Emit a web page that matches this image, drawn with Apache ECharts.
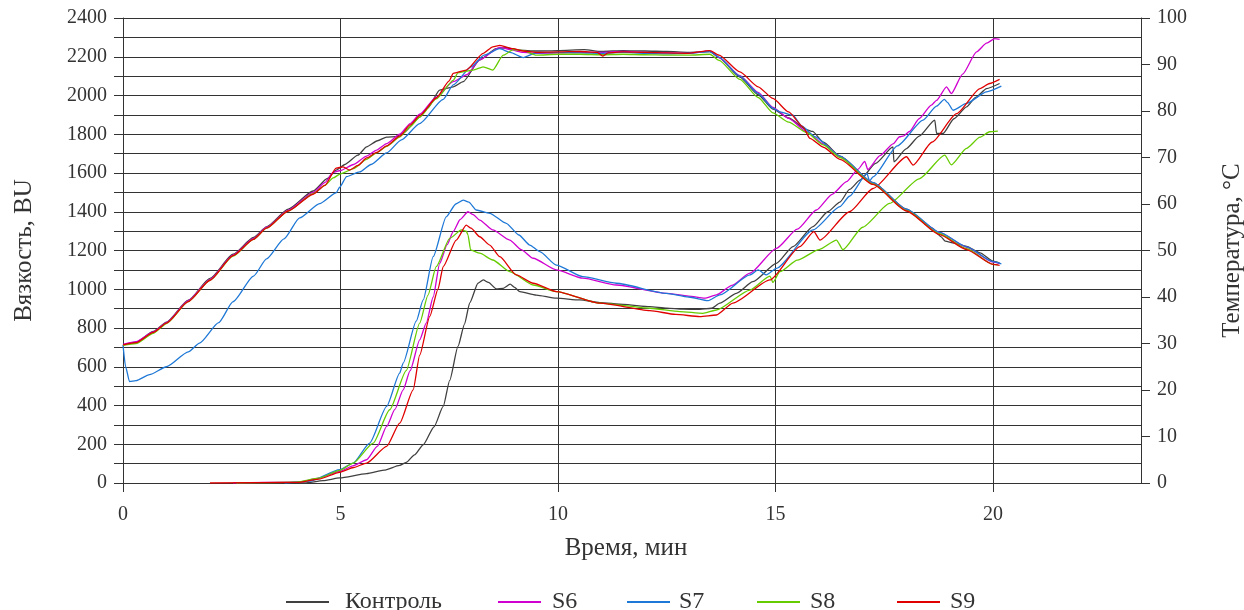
<!DOCTYPE html>
<html>
<head>
<meta charset="utf-8">
<script src="https://cdn.jsdelivr.net/npm/echarts@6/dist/echarts.min.js"></script>
<style>
html,body{margin:0;padding:0;background:#fff;overflow:hidden;}
#chart{width:1244px;height:610px;}
</style>
</head>
<body>
<div id="chart"></div>
<script>
// ---------- DATA ----------
const seriesNames = ['Контроль', 'S6', 'S7', 'S8', 'S9'];
const xTicks = [0, 5, 10, 15, 20];

// Viscosity, BU  [time min, BU]
const viscControl = [[3.2,0],[4.18,0],[4.6,12],[4.98,26],[5.6,48],[6.0,66],[6.36,91],[6.51,106],[6.7,145],[6.9,197],[7.15,290],[7.36,395],[7.51,530],[7.7,705],[7.85,820],[7.97,930],[8.16,1031],[8.28,1048],[8.4,1035],[8.58,1002],[8.74,1005],[8.9,1026],[9.0,1010],[9.12,988],[9.5,970],[9.96,954],[10.5,945],[10.96,931],[11.5,922],[12.11,910],[12.5,903],[12.87,897],[13.2,896],[13.53,902],[13.72,928],[14.1,979],[14.48,1039],[15.02,1134],[15.4,1220],[15.86,1323],[16.2,1400],[16.48,1450],[16.7,1515],[16.94,1563],[17.3,1650],[17.7,1735],[17.72,1658],[18.0,1725],[18.3,1790],[18.66,1873],[18.7,1804],[18.85,1804],[19.1,1880],[19.39,1941],[19.6,1990],[19.85,2036],[20.15,2062]];
const viscS6 = [[2.53,0],[4.06,5],[4.5,25],[4.98,60],[5.3,90],[5.6,120],[5.85,190],[6.06,292],[6.25,380],[6.44,481],[6.6,580],[6.82,739],[6.97,825],[7.13,960],[7.28,1134],[7.45,1230],[7.59,1297],[7.75,1360],[7.93,1400],[8.05,1385],[8.2,1357],[8.5,1306],[8.89,1254],[9.15,1205],[9.43,1160],[9.96,1100],[10.57,1057],[11.34,1022],[12.49,979],[13.0,965],[13.37,954],[13.64,971],[14.0,1020],[14.41,1083],[15.02,1211],[15.5,1310],[15.94,1409],[16.3,1490],[16.63,1555],[16.9,1620],[17.05,1660],[17.12,1618],[17.4,1690],[17.7,1750],[17.85,1787],[17.95,1792],[18.08,1815],[18.3,1880],[18.58,1950],[18.7,1975],[18.93,2045],[19.04,2010],[19.3,2110],[19.62,2225],[19.85,2270],[20.04,2294],[20.15,2290]];
const viscS7 = [[3.72,0],[4.3,10],[4.98,69],[5.29,103],[5.67,206],[6.06,395],[6.36,567],[6.44,619],[6.74,835],[6.9,945],[7.13,1168],[7.43,1374],[7.65,1440],[7.82,1460],[7.95,1450],[8.12,1409],[8.43,1392],[8.81,1340],[9.1,1280],[9.35,1228],[9.58,1194],[9.96,1125],[10.57,1065],[11.34,1031],[12.49,979],[13.0,960],[13.45,941],[13.72,971],[14.41,1074],[14.6,1100],[14.79,1074],[15.02,1108],[15.86,1306],[16.48,1426],[16.7,1480],[17.1,1598],[17.16,1560],[17.24,1580],[17.8,1740],[18.39,1873],[18.7,1945],[18.88,1980],[18.95,1965],[19.08,1924],[19.39,1959],[19.85,2019],[20.19,2048]];
const viscS8 = [[2.6,0],[4.0,5],[4.5,25],[4.98,65],[5.29,103],[5.75,206],[6.13,378],[6.51,580],[6.82,825],[7.01,970],[7.2,1117],[7.51,1263],[7.78,1306],[7.89,1300],[7.93,1280],[7.99,1203],[8.2,1186],[8.5,1151],[8.89,1091],[9.43,1022],[9.96,988],[10.96,928],[12.11,902],[12.8,885],[13.33,876],[13.64,893],[14.41,996],[14.87,1068],[14.94,1035],[15.1,1091],[15.5,1150],[16.0,1205],[16.4,1254],[16.55,1204],[17.0,1320],[17.62,1443],[18.3,1570],[18.89,1692],[19.04,1642],[19.39,1727],[19.7,1785],[19.92,1813],[20.11,1816]];
const viscS9 = [[2.0,0],[4.0,3],[4.5,20],[4.98,55],[5.3,80],[5.6,103],[6.06,189],[6.36,309],[6.67,481],[6.82,660],[7.05,859],[7.24,1000],[7.36,1117],[7.66,1254],[7.89,1331],[8.0,1315],[8.2,1271],[8.43,1228],[8.66,1168],[9.04,1074],[9.43,1031],[9.96,988],[10.96,928],[12.11,890],[12.7,870],[13.26,859],[13.64,867],[14.02,928],[14.87,1048],[15.56,1220],[15.88,1297],[16.02,1254],[16.7,1400],[17.24,1520],[18.01,1684],[18.16,1641],[18.6,1760],[19.16,1906],[19.7,2036],[19.92,2062],[20.15,2083]];

// Temperature, °C  [time min, °C]
const tempControl = [[0,29.7],[0.3,30.3],[0.7,32.6],[1.0,34.6],[1.5,39.3],[2.0,44.0],[2.53,49.2],[3.0,52.8],[3.3,55.1],[3.8,58.9],[4.37,62.8],[4.7,65.5],[4.9,67.3],[5.1,68.5],[5.4,70.5],[5.6,72.3],[5.85,73.6],[6.06,74.4],[6.28,74.5],[6.45,75.3],[6.82,78.7],[7.0,80.6],[7.28,84.5],[7.59,85.2],[7.82,86.3],[8.2,91.0],[8.58,93.4],[8.8,93.6],[9.1,93.1],[9.5,92.9],[10.0,93.0],[10.6,93.2],[11.0,92.8],[11.5,93.0],[12.0,92.9],[12.5,92.8],[13.0,92.6],[13.49,92.8],[13.7,91.5],[14.18,87.3],[14.6,83.5],[14.94,80.4],[15.3,78.5],[15.71,76.0],[15.85,75.6],[16.1,73.3],[16.48,70.3],[17.24,64.6],[18.01,58.9],[18.6,54.8],[18.8,53.0],[18.9,52.0],[19.1,51.6],[19.39,50.9],[19.7,49.5],[20.0,47.7],[20.15,47.3]];
const tempS6 = [[0,29.8],[0.3,30.4],[0.7,32.5],[1.0,34.5],[1.5,39.2],[2.0,43.8],[2.53,49.0],[3.0,52.6],[3.3,55.0],[3.8,58.7],[4.37,62.5],[4.64,64.6],[4.83,66.8],[5.0,67.2],[5.3,68.5],[5.6,70.3],[5.83,71.6],[6.06,73.0],[6.36,75.0],[6.6,77.3],[6.82,79.3],[7.2,83.0],[7.59,86.3],[7.9,87.8],[8.2,91.0],[8.66,93.7],[8.9,93.2],[9.2,92.6],[9.5,92.4],[10.0,92.5],[10.5,92.6],[11.0,92.6],[11.5,92.8],[12.0,92.6],[12.5,92.5],[13.0,92.4],[13.49,92.9],[13.7,91.5],[14.18,87.6],[14.6,84.0],[14.94,80.8],[15.3,78.4],[15.71,75.6],[16.1,72.9],[16.48,70.2],[17.24,64.5],[18.01,58.8],[18.77,53.9],[19.39,50.7],[20.0,47.5],[20.15,47.2]];
const tempS7 = [[0,29.7],[0.06,25.0],[0.15,21.8],[0.3,22.0],[0.61,23.3],[1.0,25.0],[1.5,28.2],[1.76,30.1],[2.2,34.5],[2.53,39.0],[3.0,44.5],[3.3,48.2],[3.7,52.5],[4.06,57.0],[4.52,60.1],[4.9,62.4],[4.98,63.6],[5.14,65.9],[5.44,66.9],[5.7,68.5],[6.06,71.0],[6.4,73.8],[6.82,77.3],[7.36,82.5],[7.59,85.6],[8.0,89.5],[8.3,92.0],[8.66,93.4],[8.9,92.6],[9.2,91.5],[9.5,92.5],[10.0,92.6],[10.5,92.5],[11.0,92.4],[11.5,92.6],[12.0,92.4],[12.5,92.3],[13.0,92.4],[13.49,92.8],[13.7,91.6],[14.18,87.5],[14.6,83.8],[14.94,80.6],[15.1,79.8],[15.4,79.1],[15.6,76.8],[15.9,74.5],[16.48,70.3],[17.24,64.6],[18.01,58.9],[18.77,53.9],[19.39,50.8],[20.0,47.6],[20.19,47.1]];
const tempS8 = [[0,29.6],[0.3,30.0],[0.7,32.2],[1.0,34.3],[1.5,39.0],[2.0,43.6],[2.53,48.8],[3.0,52.4],[3.3,54.8],[3.8,58.5],[4.37,62.2],[4.64,64.0],[4.83,65.6],[5.0,66.5],[5.3,67.6],[5.6,69.6],[5.83,71.0],[6.06,72.4],[6.36,74.4],[6.6,76.6],[6.82,78.7],[7.2,82.6],[7.59,86.6],[7.7,88.2],[8.05,88.8],[8.28,89.5],[8.5,88.8],[8.74,92.0],[8.97,93.2],[9.2,93.0],[9.5,92.0],[10.0,92.2],[10.5,92.2],[11.0,92.1],[11.5,92.2],[12.0,92.1],[12.5,92.0],[13.0,92.0],[13.49,92.2],[13.7,90.9],[14.18,86.8],[14.6,82.9],[14.94,79.6],[15.3,77.6],[15.71,75.4],[16.1,72.7],[16.48,70.0],[17.24,64.3],[18.01,58.6],[18.77,53.6],[19.39,50.4],[20.0,47.0],[20.11,46.9]];
const tempS9 = [[0,29.7],[0.3,30.2],[0.7,32.4],[1.0,34.4],[1.5,39.0],[2.0,43.6],[2.53,48.9],[3.0,52.4],[3.3,54.8],[3.8,58.5],[4.37,62.1],[4.64,64.0],[4.9,67.7],[5.06,68.0],[5.21,67.3],[5.4,68.3],[5.6,69.9],[5.83,71.1],[6.06,72.5],[6.36,74.6],[6.6,77.0],[6.82,79.0],[7.2,82.8],[7.5,86.5],[7.59,88.1],[7.89,88.8],[8.28,92.4],[8.5,93.8],[8.66,94.1],[8.97,93.4],[9.2,92.9],[9.5,92.6],[10.0,92.7],[10.5,92.8],[10.9,92.6],[11.03,91.8],[11.15,92.5],[11.5,92.7],[12.0,92.6],[12.5,92.5],[13.0,92.4],[13.49,93.0],[13.7,92.0],[14.18,88.4],[14.6,85.2],[14.94,82.7],[15.3,79.8],[15.63,76.6],[15.79,74.1],[16.1,72.2],[16.48,69.6],[17.24,64.2],[18.01,58.5],[18.77,53.4],[19.39,50.2],[20.0,47.0],[20.15,46.8]];

// ---------- STYLE ----------
const colors = ['#404040', '#d000d0', '#1e78d6', '#66cc00', '#e00000'];
const FONT = 'Liberation Serif';
const TXT = '#333';
const GRIDC = '#333';
const legendLefts = [281, 493, 622, 752, 892];
const legendPads = [11, 6, 4, 5, 5];

const viscData = [viscControl, viscS6, viscS7, viscS8, viscS9];
const tempData = [tempControl, tempS6, tempS7, tempS8, tempS9];

function mkSeries(data, i, axis) {
  return {
    name: seriesNames[i], type: 'line', yAxisIndex: axis, data: data,
    showSymbol: false, symbol: 'none', smooth: 0.2, smoothMonotone: 'x',
    lineStyle: { color: colors[i], width: 1.3 }, itemStyle: { color: colors[i] },
    emphasis: { disabled: true }, silent: true
  };
}

const series = [];
viscData.forEach((d, i) => series.push(mkSeries(d, i, 0)));
tempData.forEach((d, i) => series.push(mkSeries(d, i, 1)));

const el = document.getElementById('chart');
const chart = echarts.init(el, null, { renderer: 'canvas', width: 1244, height: 610 });
chart.setOption({
  animation: false,
  backgroundColor: '#fff',
  grid: { left: 123, top: 18, width: 1018, height: 465, containLabel: false, outerBoundsMode: 'none' },
  legend: seriesNames.map((n, i) => ({
    data: [n], left: legendLefts[i], top: 585, icon: 'rect', itemWidth: 43, itemHeight: 2,
    selectedMode: false,
    textStyle: { fontFamily: FONT, fontSize: 24, color: TXT, padding: [0, 0, 0, legendPads[i]] }
  })),
  xAxis: {
    type: 'value', min: 0, max: 23.4, interval: 5,
    name: 'Время, мин', nameLocation: 'middle', nameGap: 53,
    nameTextStyle: { fontFamily: FONT, fontSize: 25, color: TXT, padding: [0, 12, 0, 0] },
    axisLine: { show: true, lineStyle: { color: GRIDC, width: 1 } },
    axisTick: { show: true, length: 9, inside: false, customValues: xTicks, lineStyle: { color: GRIDC } },
    axisLabel: { customValues: xTicks, fontFamily: FONT, fontSize: 20, color: TXT, margin: 22 },
    splitLine: { show: true, lineStyle: { color: GRIDC, width: 1 } }
  },
  yAxis: [
    {
      type: 'value', min: 0, max: 2400, interval: 100, position: 'left',
      name: 'Вязкость, BU', nameLocation: 'middle', nameGap: 86, nameRotate: 90,
      nameTextStyle: { fontFamily: FONT, fontSize: 25, color: TXT },
      axisLine: { show: true, lineStyle: { color: GRIDC, width: 1 } },
      axisTick: { show: true, length: 9, inside: false, lineStyle: { color: GRIDC } },
      axisLabel: { fontFamily: FONT, fontSize: 20, color: TXT, margin: 16,
        formatter: v => (v % 200 === 0 ? String(v) : '') },
      splitLine: { show: true, lineStyle: { color: GRIDC, width: 1 } }
    },
    {
      type: 'value', min: 0, max: 100, interval: 10, position: 'right',
      name: 'Температура, °C', nameLocation: 'middle', nameGap: 79, nameRotate: 90,
      nameTextStyle: { fontFamily: FONT, fontSize: 25, color: TXT },
      axisLine: { show: true, lineStyle: { color: GRIDC, width: 1 } },
      axisTick: { show: true, length: 9, inside: false, lineStyle: { color: GRIDC } },
      axisLabel: { fontFamily: FONT, fontSize: 20, color: TXT, margin: 16 },
      splitLine: { show: false }
    }
  ],
  series: series
});
</script>
</body>
</html>
